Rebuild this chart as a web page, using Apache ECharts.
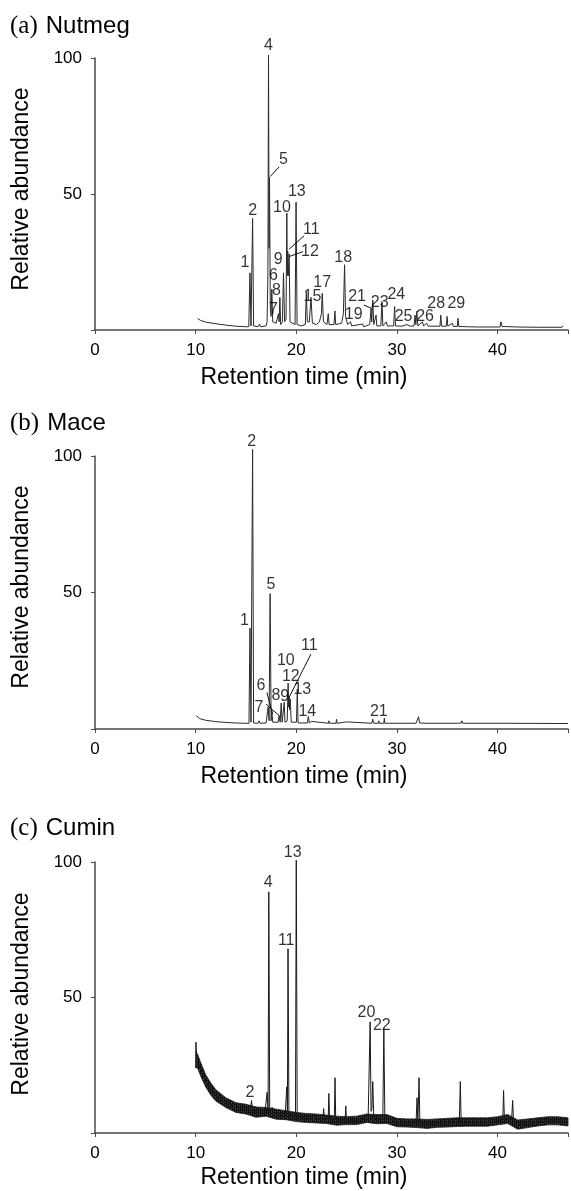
<!DOCTYPE html>
<html><head><meta charset="utf-8">
<script src="https://cdn.jsdelivr.net/npm/echarts@6/dist/echarts.min.js"></script>
<style>html,body{margin:0;padding:0;background:#fff}#c{width:571px;height:1191px}</style>
</head><body><div id="c"></div>
<script>
// ---- texts ----
const panelTitles = [['(a)', 'Nutmeg'], ['(b)', 'Mace'], ['(c)', 'Cumin']];
const xAxisTitle = 'Retention time (min)';
const yAxisTitle = 'Relative abundance';
const yTickValues = [50, 100];

// ---- traces [time (min), relative abundance] ----
const nutmegTrace = [
 [10.2,4.2],[10.5,3.5],[11,2.9],[12,2.3],[13,1.8],[14,1.4],[15,1.2],[15.28,1.2],[15.4,21],[15.5,1.5],[15.58,1.8],
 [15.66,41],[15.76,1.5],[16.2,1.2],[16.35,2.2],[16.45,1.2],[17.0,1.5],[17.1,3],[17.18,20],[17.24,101],[17.3,30],
 [17.34,56],[17.42,8],[17.5,5],[17.57,15],[17.66,3],[18.0,2.5],[18.15,3],[18.23,6],[18.3,3],[18.37,12],[18.45,2],
 [18.62,3],[18.73,21],[18.84,3],[18.98,4],[19.06,43],[19.11,20],[19.15,29],[19.22,20],[19.29,28],[19.38,3],
 [19.88,2],[19.98,47],[20.08,2],[20.5,1.5],[20.9,2],[21.0,14],[21.1,3],[21.3,3],[21.46,12],[21.6,2.5],[22.0,2],
 [22.3,3],[22.5,6],[22.58,13.5],[22.7,3],[23.05,2],[23.18,6],[23.26,2],[23.75,2],[23.84,7],[23.92,2],[24.5,2.5],
 [24.68,6],[24.8,24],[24.9,5],[25.1,2],[25.4,3],[25.5,1.5],[26.6,2.2],[26.7,1.2],[27.3,2],[27.43,8],[27.5,3],
 [27.6,11],[27.7,2],[27.93,5.5],[28.0,1.5],[28.4,1.5],[28.52,10.5],[28.6,1.5],[28.95,3],[29.05,1.5],[29.68,1.5],
 [29.77,8.6],[29.86,1.5],[30.5,1.4],[31.0,2],[31.3,1.4],[31.7,1.5],[31.8,5.5],[31.88,2],[31.98,6.9],[32.08,1.5],
 [32.54,3],[32.65,1.5],[32.97,2.5],[33.1,1.4],[34.28,1.4],[34.36,5.5],[34.44,1.4],[34.9,1.4],[34.98,5],[35.06,1.4],
 [35.5,2.5],[35.6,1.3],[36.0,1.3],[36.07,4.3],[36.15,1.3],[37,1.2],[38,1.1],[39,1.1],[40.25,1.1],[40.33,3],
 [40.45,1.3],[42,1.1],[44,1.0],[46,1.0],[46.4,1.0],[46.5,1.6]
];
const maceTrace = [
 [10.05,4.9],[10.4,3.8],[11,3.2],[12,2.7],[13,2.4],[14,2.2],[15.0,2.1],[15.3,2.1],[15.4,37],[15.5,2.5],[15.58,2.5],
 [15.66,102.4],[15.76,2.2],[16.2,2.1],[16.3,3],[16.4,2.1],[17.0,2.2],[17.2,8],[17.3,3],[17.4,49.6],[17.5,3],
 [17.57,6.7],[17.66,2.5],[18.2,2.5],[18.3,5],[18.4,2.5],[18.5,9.5],[18.6,2.5],[18.72,2.5],[18.8,9.8],[18.88,2.5],
 [19.1,3],[19.19,16.8],[19.24,8],[19.29,12],[19.34,7],[19.4,11],[19.5,2.5],[20.02,2.5],[20.1,14.6],[20.18,2.2],
 [21.1,2.2],[21.2,4.6],[21.3,2.2],[21.45,2.2],[21.5,2.8],[21.6,2.1],[23.2,2.1],[23.25,3],[23.3,2.1],[23.95,2.1],
 [24.0,3.6],[24.05,2.1],[25.0,2.6],[25.1,2.1],[27.5,2.1],[27.6,3.6],[27.7,2.1],[28.15,2.1],[28.2,3],[28.25,2.1],
 [28.7,2.1],[28.75,4],[28.8,2.1],[31.9,2.1],[32.0,2.8],[32.08,2.1],[32.15,4.5],[32.25,2.2],[33,2.1],[35.8,2.1],
 [35.9,2.6],[36.0,2.1],[36.4,2.2],[36.45,3],[36.55,2.1],[40.6,2.1],[40.7,2.5],[40.8,2.1],[47,2]
];
const cuminTrace = [
 [10.0,24],[10.03,33.5],[10.1,26],[10.3,25],[10.6,23],[11,19],[11.5,16],[12,14],[13,11],[14,9.4],[15,8.8],
 [15.45,8.5],[15.55,12],[15.65,8.5],[16,7.7],[16.9,7.8],[17.1,15],[17.2,8],[17.27,89],[17.36,8],[17.6,9.5],[18,7],
 [18.9,6.7],[19.05,17],[19.12,8],[19.18,68],[19.27,7],[19.6,6.2],[19.92,6],[20.0,100.7],[20.09,6],[20.5,5.8],
 [21,5.5],[22,5.3],[22.65,5.2],[22.72,9],[22.8,5],[23.17,5],[23.24,14.6],[23.31,5],[23.78,4.8],[23.85,20.4],
 [23.92,4.8],[24.85,4.6],[24.92,10],[24.99,4.6],[26,4.6],[26.9,5.5],[27.15,7],[27.27,6.5],[27.34,41],[27.43,8],
 [27.52,9],[27.6,19],[27.7,6],[28,5],[28.6,5.2],[28.7,38.5],[28.8,6],[29,6.2],[29.5,5],[30,3.8],[31,3.7],
 [31.9,3.6],[32.0,13],[32.08,3.6],[32.14,3.6],[32.2,20.4],[32.28,3.6],[33,3.4],[34,3.6],[35,3.8],[36.2,4],
 [36.3,19],[36.38,4],[37,4],[38,4],[39,4],[40,4.5],[40.52,5],[40.6,15.7],[40.68,5],[41.4,5],[41.5,12],[41.58,5],
 [42,3.1],[43,3.6],[44,4.1],[45,4.5],[46,4.5],[47,4.1]
];
// cumin noise band envelope
const cuminBandTime  = [10.05,10.2,10.5,11,11.5,12,13,14,15,16,17,18,19,20,21,22,23,24,25,26,27,28,29,30,31,32,33,34,35,36,37,38,39,40,41,42,43,44,45,46,47];
const cuminBandUpper = [30,29,26,21.5,18.5,16,13,11.2,10.6,9.6,9.4,8.8,8.2,7.6,7.2,7.0,6.6,6.2,6.0,6.2,7.0,6.8,6.8,5.4,5.2,5.2,5.0,5.2,5.4,5.6,5.6,5.6,5.6,6.0,6.8,4.8,5.2,5.6,6.0,6.0,5.6];
const cuminBandLower = [24,24,21,17,14,11.8,9.4,7.6,7.0,5.8,6.2,5.1,4.9,4.2,3.9,3.7,3.5,2.9,3.1,3.1,3.9,3.4,3.5,2.3,2.2,2.0,1.7,2.1,2.2,2.4,2.5,2.5,2.5,3.0,3.5,1.4,2.0,2.6,3.0,3.0,2.6];

// ---- peak labels [text, time, abundance] ----
const nutmegLabels = [
 ['1',14.9,24.7],['2',15.66,43.9],['4',17.24,104.4],['5',18.72,62.7],['6',17.73,19.9],['7',17.73,7.4],
 ['8',18.03,14.4],['9',18.2,26],['10',18.57,45.1],['11',21.5,36.8],['12',21.36,28.8],['13',20.05,50.8],
 ['15',21.6,12.2],['17',22.58,17.4],['18',24.66,26.7],['19',25.7,5.5],['21',26.04,12.2],['23',28.29,10],
 ['24',29.94,12.9],['25',30.66,4.9],['26',32.8,4.9],['28',33.9,9.8],['29',35.9,9.8]
];
const nutmegLeaders = [
 [[17.41,56.4],[18.3,60]], [[19.29,29.7],[20.77,34.6]], [[19.29,27],[20.67,28.8]], [[26.7,9.2],[27.47,8]]
];
const maceLabels = [
 ['1',14.84,39.8],['2',15.56,105.2],['5',17.48,52.9],['6',16.49,15.8],['7',16.3,7.9],['8',17.97,12.2],
 ['9',18.86,11.9],['10',18.96,24.9],['11',21.3,30.4],['12',19.46,19.1],['13',20.6,14.3],['14',21.1,6.3],['21',28.2,6.3]
];
const maceLeaders = [
 [[17.08,13.4],[17.64,5.5]], [[17.0,9.1],[18.3,4.9]], [[19.19,10.9],[21.45,27.4]]
];
const cuminLabels = [
 ['2',15.4,14.9],['4',17.2,92.4],['11',19.0,71],['13',19.64,103.4],['20',26.98,44.6],['22',28.5,39.6]
];

// ---- layout ----
const gridTops = [58, 456, 862];
const gridHeights = [272, 273, 271];
const titleY = [26, 423, 828];
const xTitleY = [378, 777, 1178];
const yTitleY = [189, 587, 994];

const FONT = '"Liberation Sans", Arial, sans-serif';
const traces = [nutmegTrace, maceTrace, cuminTrace];
const labels = [nutmegLabels, maceLabels, cuminLabels];
const leaders = [nutmegLeaders, maceLeaders, []];

// texture for the noisy cumin baseline band
const tex = document.createElement('canvas');
tex.width = 4; tex.height = 3;
const tctx = tex.getContext('2d');
tctx.fillStyle = '#0e0e0e'; tctx.fillRect(0, 0, 4, 3);
tctx.fillStyle = '#3c3c3c'; tctx.fillRect(1, 0, 1, 2); tctx.fillRect(3, 1, 1, 2);

const chart = echarts.init(document.getElementById('c'), null, {renderer: 'canvas'});
const grid = [], xAxis = [], yAxis = [], series = [], graphic = [];
for (let i = 0; i < 3; i++) {
  grid.push({left: 95, width: 476, top: gridTops[i], height: gridHeights[i], containLabel: false});
  xAxis.push({type: 'value', gridIndex: i, min: 0, max: 47, interval: 10,
    axisLine: {show: true, lineStyle: {color: '#4a4a4a', width: 1.5}},
    axisTick: {show: true, length: 4, lineStyle: {color: '#4a4a4a', width: 1}},
    axisLabel: {fontFamily: FONT, fontSize: 17, color: '#000', margin: 12,
      formatter: v => (v > 45 ? '' : String(v))},
    splitLine: {show: false}});
  yAxis.push({type: 'value', gridIndex: i, min: 0, max: 100, interval: 50,
    axisLine: {show: true, lineStyle: {color: '#4a4a4a', width: 1.5}},
    axisTick: {show: true, length: 4, lineStyle: {color: '#4a4a4a', width: 1}},
    axisLabel: {fontFamily: FONT, fontSize: 17, color: '#000', margin: 13,
      formatter: v => (yTickValues.indexOf(v) >= 0 ? String(v) : '')},
    splitLine: {show: false}});
  if (i === 2) {
    series.push({type: 'custom', xAxisIndex: 2, yAxisIndex: 2, silent: true, clip: false,
      data: [[20, 5]], z: 2,
      renderItem: function (params, api) {
        const pts = [];
        for (let k = 0; k < cuminBandTime.length; k++) pts.push(api.coord([cuminBandTime[k], cuminBandUpper[k]]));
        for (let k = cuminBandTime.length - 1; k >= 0; k--) pts.push(api.coord([cuminBandTime[k], cuminBandLower[k]]));
        return {type: 'polygon', shape: {points: pts},
          style: {fill: {image: tex, repeat: 'repeat'}, stroke: '#1a1a1a', lineWidth: 0.8}};
      }});
  }
  series.push({type: 'line', xAxisIndex: i, yAxisIndex: i, data: traces[i], showSymbol: false, symbol: 'none',
    clip: false, silent: true, z: 3, lineStyle: {color: i === 2 ? '#1a1a1a' : '#2a2a2a', width: 1}});
  series.push({type: 'scatter', xAxisIndex: i, yAxisIndex: i, symbolSize: 1, clip: false, silent: true, z: 5,
    itemStyle: {color: 'rgba(0,0,0,0)'},
    data: labels[i].map(l => ({name: l[0], value: [l[1], l[2]]})),
    label: {show: true, position: 'inside', formatter: '{b}', fontFamily: FONT, fontSize: 16, color: '#000'}});
  if (leaders[i].length) {
    series.push({type: 'lines', coordinateSystem: 'cartesian2d', xAxisIndex: i, yAxisIndex: i, silent: true, z: 4,
      data: leaders[i].map(c => ({coords: c})),
      lineStyle: {color: '#111', width: 1, opacity: 1}});
  }
  graphic.push({type: 'text', x: 10, y: titleY[i], style: {
    text: '{s|' + panelTitles[i][0] + '}{g| }{n|' + panelTitles[i][1] + '}',
    verticalAlign: 'middle',
    rich: {s: {fontFamily: '"Liberation Serif", "Times New Roman", serif', fontSize: 25, fill: '#000', color: '#000'},
           g: {fontSize: 24, width: 8},
           n: {fontFamily: FONT, fontSize: 24, fill: '#000', color: '#000'}}}});
  graphic.push({type: 'text', x: 304, y: xTitleY[i], style: {text: xAxisTitle, font: '23px ' + FONT,
    fill: '#000', align: 'center', verticalAlign: 'middle'}});
  graphic.push({type: 'text', x: 22, y: yTitleY[i], rotation: Math.PI / 2, style: {text: yAxisTitle,
    font: '23px ' + FONT, fill: '#000', align: 'center', verticalAlign: 'middle'}});
}
chart.setOption({animation: false, backgroundColor: '#fff', grid, xAxis, yAxis, series, graphic});
</script></body></html>
